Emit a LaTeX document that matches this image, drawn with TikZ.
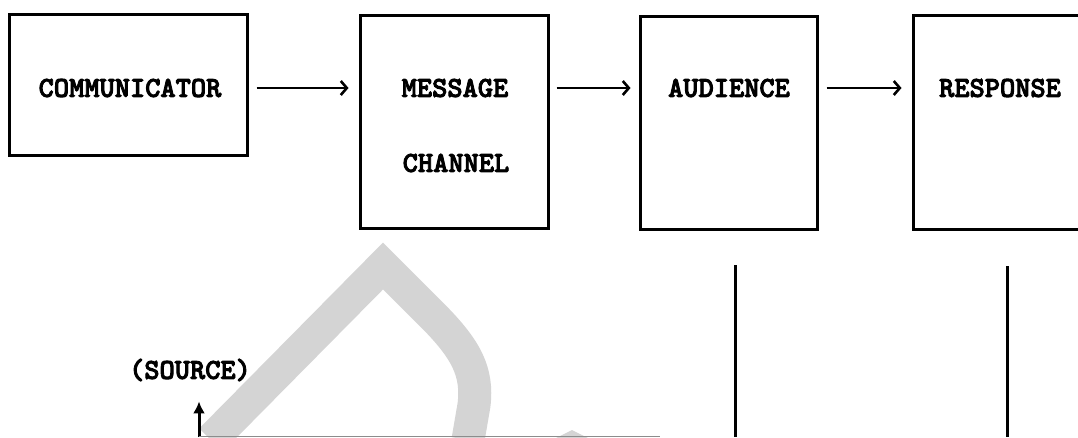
\documentclass[tikz,border=0pt]{standalone}
\usepackage{fontspec}
\usepackage{tikz}
\usetikzlibrary{arrows.meta}
\newfontfamily\typer{lmmonolt10-bold}[Extension=.otf, FakeBold=3]

\tikzset{
	stage/.style={draw, line width=3pt, inner sep=0pt},
	word/.style={font=\typer\fontsize{29}{34}\selectfont, inner sep=0pt},
	flow/.style={line width=2.6pt, -{Straight Barb[length=6pt, width=14pt, line width=2.6pt]}},
	rule/.style={line width=3pt}
}

\begin{document}
\begin{tikzpicture}[x=1pt, y=-1pt]
		\useasboundingbox (0, 0) rectangle (1078, 437);
		\clip (0, 0) rectangle (1078, 437);
		\fill[white] (0, 0) rectangle (1078, 437);
		\draw[black!17, line width=33pt, miter limit=10] (211, 440) -- (383, 266) -- (436, 319)
			.. controls (466, 350) and (478, 372) .. (474, 405) -- (468, 440);
		\fill[black!17] (552, 440) -- (572, 430) -- (592, 440) -- cycle;
		\node[stage, minimum width=238pt, minimum height=141pt] (comm) at (128, 84.5) {};
		\node[stage, minimum width=188pt, minimum height=213pt] (chan) at (454, 121.5) {};
		\node[stage, minimum width=177pt, minimum height=213pt] (aud) at (728.5, 122.5) {};
		\node[stage, minimum width=182pt, minimum height=214pt] (resp) at (1004, 122) {};
		\node[word] (commtxt) at (130, 88) {COMMUNICATOR};
		\node[word] (msgtxt) at (455, 88) {MESSAGE};
		\node[word] (chantxt) at (456, 163) {CHANNEL};
		\node[word] (audtxt) at (729, 88) {AUDIENCE};
		\node[word] (resptxt) at (1000, 88) {RESPONSE};
		\node[word] (src) at (190, 370) {(SOURCE)};
		\draw[flow, shorten <=8pt, shorten >=10pt] (comm.east |- commtxt) -- (chan.west |- commtxt);
		\draw[flow, shorten <=7pt, shorten >=8pt] (chan.east |- msgtxt) -- (aud.west |- msgtxt);
		\draw[flow, shorten <=8pt, shorten >=10pt] (aud.east |- audtxt) -- (resp.west |- audtxt);
		\coordinate (foot) at (199, 437);
		\coordinate (bend) at (660, 436);
		\draw[line width=3pt, -{Latex[length=12pt, width=12pt]}, shorten >=20pt] (foot) -- (src.south -| foot);
		\draw[black!45, line width=1pt] (foot) ++(0, -1) -- (bend);
		\foreach \x/\y in {735/265, 1007/266}
			\draw[rule] (\x, \y) -- (\x, 437);
	\end{tikzpicture}
\end{document}
